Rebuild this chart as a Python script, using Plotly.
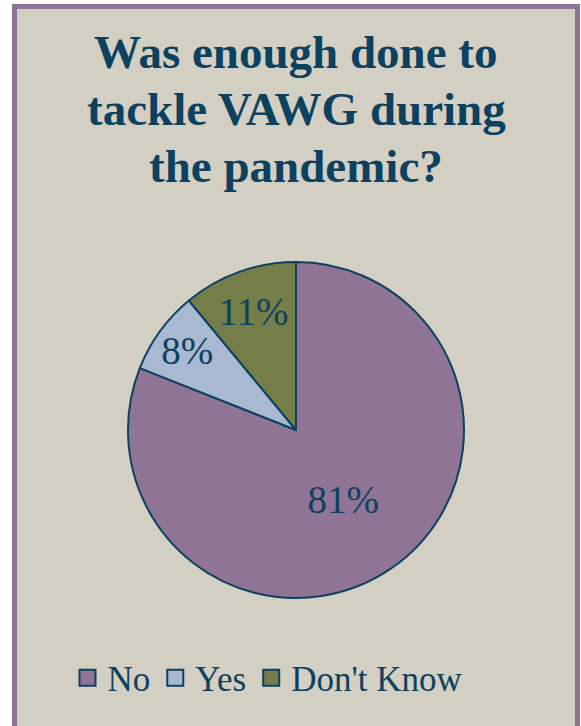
import plotly.graph_objects as go

# Survey answers
labels = ["No", "Yes", "Don't Know"]
shares = [81, 8, 11]
colors = ["#8f7496", "#aab9d2", "#757e48"]

title_lines = ["Was enough done to", "tackle VAWG during", "the pandemic?"]

INK = "#0c4160"
PANEL = "#d3cfc2"
FRAME = "#8e7497"
W, H = 581, 726

fig = go.Figure()

fig.add_trace(go.Pie(
    labels=labels,
    values=shares,
    sort=False,
    direction="clockwise",
    rotation=0,
    marker=dict(colors=colors, line=dict(color=INK, width=2)),
    texttemplate="%{value}%",
    textposition="inside",
    insidetextorientation="horizontal",
    textfont=dict(family="Liberation Serif", size=39, color=INK),
    domain=dict(x=[(296 - 168) / W, (296 + 168) / W],
                y=[1 - 598 / H, 1 - 262 / H]),
    showlegend=False,
    hoverinfo="label+percent",
))

# Legend entries drawn as square markers so their size can be set
for lab, col in zip(labels, colors):
    fig.add_trace(go.Scatter(
        x=[None], y=[None], mode="markers", name=lab,
        marker=dict(symbol="square", size=16, color=col,
                    line=dict(color=INK, width=2)),
    ))

# Title set line by line for tighter leading
title_annotations = [
    dict(text=line, xref="paper", yref="paper",
         x=296 / W, xanchor="center",
         y=1 - (52 + 57 * i) / H, yanchor="middle",
         showarrow=False,
         font=dict(family="Liberation Serif", size=47, color=INK, weight="bold"))
    for i, line in enumerate(title_lines)
]

fig.update_layout(
    width=W, height=H,
    margin=dict(l=0, r=0, t=0, b=0),
    paper_bgcolor="white",
    plot_bgcolor="rgba(0,0,0,0)",
    xaxis=dict(visible=False),
    yaxis=dict(visible=False),
    uniformtext=dict(minsize=39, mode="show"),
    annotations=title_annotations,
    legend=dict(
        orientation="h",
        x=268 / W, xanchor="center",
        y=1 - 678 / H, yanchor="middle",
        font=dict(family="Liberation Serif", size=35, color=INK),
        bgcolor="rgba(0,0,0,0)",
        itemclick=False,
    ),
    shapes=[dict(
        type="rect", xref="paper", yref="paper", layer="below",
        x0=14.5 / W, x1=577.5 / W, y0=-10 / H, y1=1 - 6.5 / H,
        line=dict(color=FRAME, width=5), fillcolor=PANEL,
    )],
)

fig.write_html("out.html")
